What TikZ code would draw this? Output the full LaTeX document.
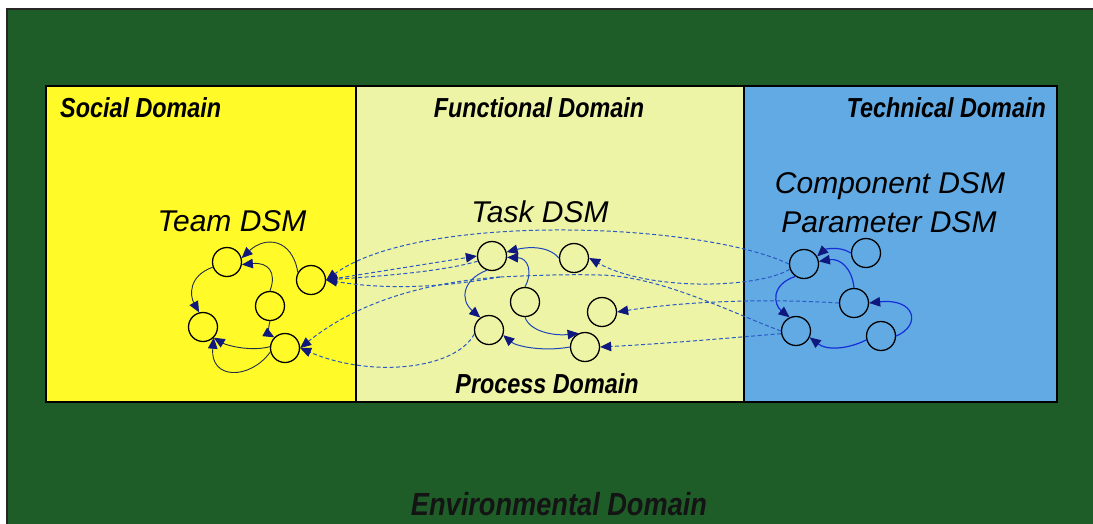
\documentclass[tikz,border=0pt]{standalone}
\usepackage{fontspec}
\setmainfont{Liberation Sans}
\usetikzlibrary{arrows.meta}
\definecolor{envgreen}{RGB}{31,93,40}
\definecolor{socyellow}{RGB}{255,250,40}
\definecolor{funyellow}{RGB}{238,244,165}
\definecolor{techblue}{RGB}{98,170,228}
\definecolor{dashblue}{RGB}{42,90,195}
\definecolor{headnavy}{RGB}{15,25,125}
\definecolor{teamline}{RGB}{35,45,70}
\definecolor{taskline}{RGB}{30,70,185}
\definecolor{techline}{RGB}{20,45,215}
\newcommand{\condensed}[1]{\scalebox{0.85}[1]{#1}}
\tikzset{
  x=1pt, y=-1pt,
  dsmnode/.style={circle, draw=black, line width=1.3pt, minimum size=29pt, inner sep=0pt},
  tip/.style={-{Triangle[length=11pt,width=9.5pt,color=headnavy]}},
  teamarrow/.style={tip, draw=teamline, line width=0.9pt},
  taskarrow/.style={tip, draw=taskline, line width=1pt},
  techarrow/.style={tip, draw=techline, line width=1.2pt},
  crossline/.style={draw=dashblue, line width=1pt, dash pattern=on 4pt off 2.5pt},
  crossarrow/.style={tip, crossline},
  domlabel/.style={font=\fontsize{27.5}{31}\selectfont\bfseries\itshape, text=black, inner sep=0pt},
  envlabel/.style={font=\fontsize{32}{36}\selectfont\bfseries\itshape, text=black!92, inner sep=0pt},
  dsmlabel/.style={font=\fontsize{30}{34}\selectfont\itshape, text=black, inner sep=0pt},
}
\begin{document}
\begin{tikzpicture}
\useasboundingbox (0,0) rectangle (1093,523);
\fill[white] (0,0) rectangle (1093,523);
% environment
\fill[envgreen, draw=black!85, line width=1.5pt] (7,9) rectangle (1096,526);
% domains
\fill[socyellow] (46,86) rectangle (356,402);
\fill[funyellow] (356,86) rectangle (744,402);
\fill[techblue] (744,86) rectangle (1057,402);
\draw[black, line width=1.5pt] (46,86) rectangle (1057,402);
\draw[black, line width=1.1pt] (356,86) -- (356,402);
\draw[black, line width=1.1pt] (744,86) -- (744,402);

% labels
\node[domlabel, anchor=west] (lsoc) at (60,108) {\condensed{Social Domain}};
\node[domlabel] (lfun) at (539,108) {\condensed{Functional Domain}};
\node[domlabel, anchor=east] (ltec) at (1046,108) {\condensed{Technical Domain}};
\node[domlabel] (lproc) at (547,384) {\condensed{Process Domain}};
\node[envlabel] (lenv) at (559,504) {\condensed{Environmental Domain}};
\node[dsmlabel] (lteam) at (232,221) {Team DSM};
\node[dsmlabel] (ltask) at (540,212) {Task DSM};
\node[dsmlabel] (lcomp) at (890,186) {Component DSM};
\node[dsmlabel] (lpar) at (889,222) {Parameter DSM};

% team nodes
\node[dsmnode] (tA) at (227,262) {};
\node[dsmnode] (tB) at (311,280) {};
\node[dsmnode] (tC) at (270,306) {};
\node[dsmnode] (tD) at (203,327) {};
\node[dsmnode] (tE) at (285,348) {};
% task nodes
\node[dsmnode] (k1) at (492,256) {};
\node[dsmnode] (k2) at (574,258) {};
\node[dsmnode] (k3) at (525,302) {};
\node[dsmnode] (k4) at (602,312) {};
\node[dsmnode] (k5) at (489,330) {};
\node[dsmnode] (k6) at (585,347) {};
% tech nodes
\node[dsmnode] (p1) at (804,264) {};
\node[dsmnode] (p2) at (866,253) {};
\node[dsmnode] (p3) at (854,303) {};
\node[dsmnode] (p4) at (796,331) {};
\node[dsmnode] (p5) at (881,336) {};

% team arrows
\draw[teamarrow] (tB.150) .. controls (292,238) and (265,236) .. (tA.15);
\draw[teamarrow] (tC.north) .. controls (277,272) and (268,262) .. (tA.-10);
\draw[teamarrow] (tA.200) .. controls (188,276) and (190,296) .. (tD.105);
\draw[teamarrow] (tC.south) .. controls (266,336) and (272,336) .. (tE.135);
\draw[teamarrow] (tE.175) .. controls (250,352) and (226,345) .. (tD.-45);
\draw[teamarrow] (tE.195) .. controls (250,380) and (210,380) .. (tD.-45);

% task arrows
\draw[taskarrow] (k2.west) .. controls (548,245) and (526,247) .. (k1.15);
\draw[taskarrow] (k3.north) .. controls (533,272) and (528,258) .. (k1.-5);
\draw[taskarrow] (k1.250) .. controls (462,280) and (460,300) .. (k5.125);
\draw[taskarrow] (k3.south) .. controls (530,332) and (555,336) .. (k6.115);
\draw[taskarrow] (k6.west) .. controls (542,352) and (516,346) .. (k5.-20);

% tech arrows
\draw[techarrow] (p2.west) .. controls (838,245) and (824,250) .. (p1.30);
\draw[techarrow] (p3.north) .. controls (852,268) and (840,258) .. (p1.10);
\draw[techarrow] (p1.235) .. controls (770,285) and (774,305) .. (p4.115);
\draw[techarrow] (p5.195) .. controls (846,350) and (826,350) .. (p4.-25);
\draw[techarrow] (p5.east) .. controls (922,325) and (915,298) .. (p3.east);

% cross-domain dashed arrows
\coordinate (merge) at (500,277);
\draw[crossarrow] (p1.west) .. controls (700,222) and (420,212) .. (tB.east);
\draw[crossarrow] (tB.east) -- (k1.west);
\draw[crossarrow] (k1.200) .. controls (440,272) and (380,276) .. (tB.east);
\draw[crossline] (p4.west) .. controls (730,312) and (660,276) .. (600,275) .. controls (560,274) and (520,276) .. (merge);
\draw[crossarrow] (merge) .. controls (460,284) and (400,292) .. (tB.east);
\draw[crossarrow] (merge) .. controls (430,282) and (360,300) .. (tE.east);
\draw[crossarrow] (p1.200) .. controls (760,288) and (650,292) .. (k2.east);
\draw[crossarrow] (p3.west) .. controls (760,298) and (680,302) .. (k4.east);
\draw[crossarrow] (p4.190) .. controls (730,338) and (660,344) .. (k6.east);
\draw[crossarrow] (k5.195) .. controls (455,370) and (370,378) .. (tE.east);
\end{tikzpicture}
\end{document}
